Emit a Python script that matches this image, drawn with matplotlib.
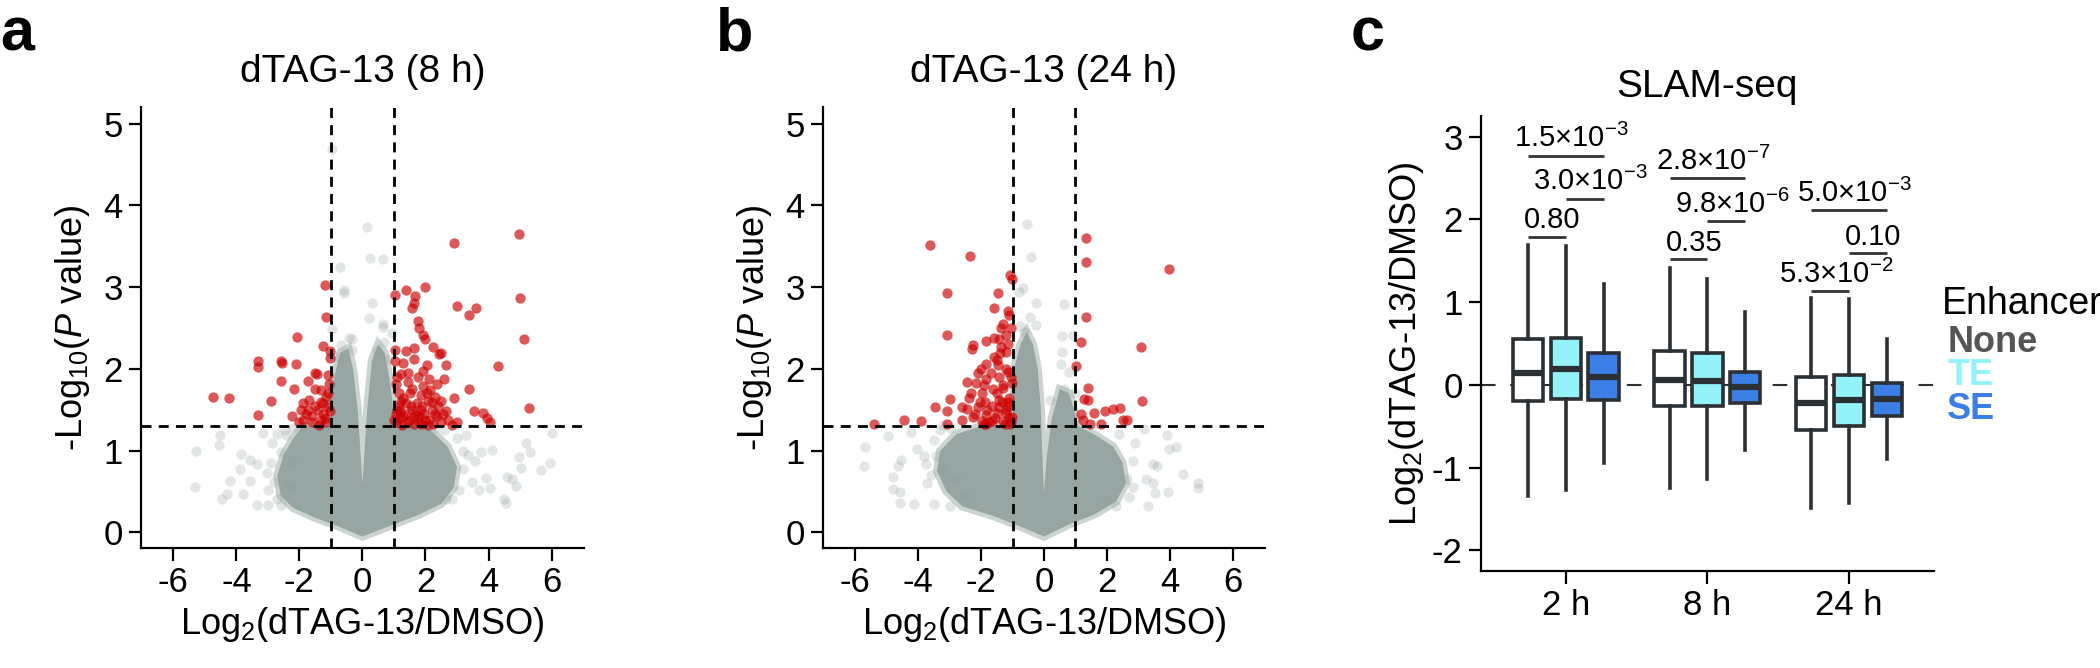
import numpy as np
import matplotlib.pyplot as plt

plt.rcParams['font.family'] = ['Liberation Sans', 'DejaVu Sans']
plt.rcParams['mathtext.fontset'] = 'custom'
plt.rcParams['mathtext.rm'] = 'Liberation Sans'
plt.rcParams['mathtext.it'] = 'Liberation Sans:italic'
plt.rcParams['axes.unicode_minus'] = False

# ------------------------------------------------------------
# Panel a : dTAG-13 (8 h) volcano
# ------------------------------------------------------------
red_a_x = [4.97, 2.92, 5.0, 2.99, 3.6, 3.39, 5.11, 2.0, 1.37, 1.02, 1.68, 1.62, 1.58,
           1.76, 1.79, 1.91, 1.98, 4.31, 5.29, 3.37, 3.53, 3.84, 3.95, 4.05, 2.89, 2.6,
           2.64, 2.43, 2.25, 2.5, 2.05, 2.1, 1.65, 1.37, 1.02, 1.02, 1.3, 1.65, 1.23, 1.93,
           1.06, 1.16, 1.23, 1.09, 1.3, 1.44, 1.58, 1.72, 1.86, 2.08, 2.22, 2.36, 2.5, 2.71,
           2.85, 2.0, 1.79, 1.58, 1.44, 1.93, 2.15, 2.36, 2.29, 2.5, 1.0, 1.2, 1.65, 2.08,
           2.64, 1.86, 1.37, 2.99,
           1.1, 1.2, 1.35, 1.5, 1.65, 1.8, 1.95, 2.1, 2.25, 2.4, 1.15, 1.3, 1.5, 1.7, 1.9,
           2.05, 1.1, 1.45, 1.75, 2.2, 2.55, 1.05, 1.25, 1.55, 1.85, 2.3,
           -1.2, -1.17, -2.09, -1.24, -1.03, -1.03, -3.32, -3.32, -2.58, -2.56, -2.12,
           -2.58, -1.74, -1.52, -1.1, -1.45, -2.16, -4.73, -4.25, -2.89, -3.32, -2.23,
           -1.88, -1.52, -1.31, -1.17, -1.52, -1.24, -1.74, -1.1, -1.88, -1.6, -1.31,
           -1.03, -2.02, -1.38, -1.06,
           -1.15, -1.25, -1.4, -1.6, -1.8, -1.3, -1.1, -1.7, -1.95, -1.2]
red_a_y = [3.65, 3.54, 2.87, 2.77, 2.75, 2.66, 2.36, 3.0, 2.97, 2.9, 2.89, 2.8, 2.74,
           2.58, 2.5, 2.41, 2.36, 2.03, 1.52, 1.76, 1.48, 1.46, 1.4, 1.35, 1.64, 1.88,
           2.05, 2.18, 2.27, 2.19, 2.05, 1.88, 2.25, 2.22, 2.23, 2.1, 2.07, 2.12, 1.94, 1.97,
           1.81, 1.71, 1.61, 1.5, 1.42, 1.35, 1.5, 1.58, 1.68, 1.61, 1.5, 1.42, 1.35, 1.37,
           1.32, 1.37, 1.35, 1.76, 1.84, 1.79, 1.74, 1.81, 1.66, 1.61, 1.37, 1.48, 1.42, 1.32,
           1.48, 1.5, 1.58, 1.35,
           1.35, 1.4, 1.45, 1.38, 1.33, 1.42, 1.45, 1.38, 1.33, 1.55, 1.55, 1.65, 1.7, 1.45,
           1.55, 1.7, 1.9, 1.95, 1.9, 1.6, 1.45, 1.45, 1.32, 1.55, 1.33, 1.45,
           3.03, 2.63, 2.39, 2.28, 2.22, 2.13, 2.1, 2.02, 2.1, 2.07, 2.06,
           1.85, 1.85, 1.95, 1.92, 1.94, 1.75, 1.66, 1.65, 1.61, 1.44, 1.42,
           1.58, 1.76, 1.74, 1.66, 1.55, 1.58, 1.5, 1.53, 1.37, 1.42, 1.37,
           1.48, 1.35, 1.32, 1.81,
           1.35, 1.45, 1.5, 1.35, 1.45, 1.6, 1.7, 1.62, 1.5, 1.4]

gray_a_x = [-0.96, 0.13, 0.24, 0.64, -0.72, -0.58, -0.58, 0.31, -0.96, 0.21, 0.64, 0.66,
            -0.42, -0.32, -0.68, -0.82, -0.32, 0.45, 0.69, 0.95, 0.8,
            -5.29, -5.31, -4.52, -4.56, -4.45, -4.31, -3.85, -3.88, -3.57, -3.36, -3.36,
            -3.57, -3.78, -4.21, -3.04, -3.01, -2.8, -3.15, -2.87, -2.58, -2.44, -2.23,
            -2.3, -2.58, -3.0, -2.72, -2.9, -2.7, -2.45, -2.2, -1.9,
            6.03, 5.96, 5.65, 5.32, 5.18, 4.97, 5.04, 4.59, 4.55, 4.48, 4.05, 4.12, 3.77,
            3.56, 3.49, 3.91, 3.28, 3.2, 3.06, 2.85, 2.64, 3.7, 4.76, 4.87, 3.2, 3.0, 2.6,
            2.3, 3.35]
gray_a_y = [4.69, 3.73, 3.36, 3.34, 3.24, 2.96, 2.93, 2.8, 2.49, 2.62, 2.51, 2.55,
            2.38, 2.36, 2.29, 2.15, 2.23, 2.23, 2.33, 2.44, 2.12,
            1.0, 0.55, 1.19, 1.07, 0.41, 0.47, 0.96, 0.78, 0.89, 0.84, 0.34,
            0.63, 0.47, 0.63, 0.73, 0.52, 0.62, 1.22, 1.09, 0.98, 1.19, 0.88,
            0.57, 0.34, 0.34, 0.41, 0.85, 1.2, 1.25, 1.28, 1.3,
            1.22, 0.85, 0.77, 0.98, 1.1, 0.92, 0.79, 0.68, 0.36, 0.41, 0.54, 1.01, 0.98,
            0.88, 0.62, 0.67, 1.19, 0.78, 0.52, 0.41, 0.41, 0.52, 0.65, 0.57, 1.0, 1.15, 1.25,
            1.28, 0.95]

core_a_x = [0, 1.0, 1.8, 2.5, 2.9, 3.0, 2.7, 2.3, 2.0, 1.0, 0.95, 0.85, 0.7, 0.5, 0.3,
            0.15, 0.05, 0.0, -0.05, -0.15, -0.3, -0.45, -0.7, -0.9, -1.0, -1.0, -1.9,
            -2.2, -2.5, -2.7, -2.6, -2.2, -1.5, -0.8]
core_a_y = [-0.05, 0.1, 0.22, 0.35, 0.55, 0.8, 1.05, 1.2, 1.3, 1.3, 1.6, 1.9, 2.2, 2.3, 2.1,
            1.5, 0.9, 0.6, 0.9, 1.5, 2.0, 2.25, 2.2, 1.9, 1.6, 1.3, 1.3,
            1.15, 0.95, 0.7, 0.45, 0.3, 0.18, 0.08]

# ------------------------------------------------------------
# Panel b : dTAG-13 (24 h) volcano
# ------------------------------------------------------------
red_b_x = [-3.62, -2.35, -1.08, -1.01, -3.07, -1.46, -1.59, -1.15, -1.12, -3.07, -1.38,
           -1.22, -1.42, -1.59, -1.83, -2.27, -2.3, -1.38, -1.22, -1.49, -1.83, -2.11,
           -2.16, -2.45, -1.83, -1.42, -1.15, -1.01, -1.29, -1.63, -1.97, -2.32, -2.98,
           -1.88, -1.42, -1.15, -2.11, -2.45, -2.62, -3.07, -3.46, -2.25, -1.83, -1.49,
           -1.22, -1.01, -1.66, -1.29, -2.6, -3.1, -3.9, -4.44, -5.41, -1.97, -1.08,
           -1.83, -1.42,
           -1.1, -1.2, -1.35, -1.5, -1.65, -1.8, -1.3, -1.05, -1.2, -1.45, -1.7, -1.9,
           -2.05, -1.1, -1.55, -1.75, -2.2, -1.25, -1.4, -1.15, -1.6, -2.0, -1.05, -1.3,
           -1.15, -1.05, -2.4, -1.9,
           1.33, 1.35, 1.33, 1.19, 1.02, 1.39, 1.39, 1.26, 1.19, 1.23, 1.6, 1.95, 2.18,
           2.43, 2.5, 2.64, 1.81, 3.11, 3.07, 3.98, 1.47]
red_b_y = [3.52, 3.38, 3.15, 3.1, 2.93, 2.93, 2.74, 2.71, 2.66, 2.42, 2.5,
           2.42, 2.37, 2.38, 2.34, 2.29, 2.24, 2.27, 2.21, 2.11, 2.06, 1.95,
           1.83, 1.84, 1.88, 1.9, 1.96, 1.83, 1.77, 1.75, 1.7, 1.7, 1.63,
           1.59, 1.62, 1.59, 1.54, 1.51, 1.54, 1.49, 1.53, 1.41, 1.44, 1.46,
           1.46, 1.41, 1.36, 1.36, 1.37, 1.33, 1.36, 1.37, 1.33, 1.36, 1.33,
           1.33, 1.54,
           1.4, 1.5, 1.6, 1.7, 1.55, 1.5, 1.8, 1.9, 2.0, 2.05, 1.95, 1.8,
           1.6, 1.65, 1.4, 1.35, 1.45, 1.33, 2.2, 2.3, 2.15, 2.0, 2.5, 2.55,
           1.55, 1.35, 1.65, 1.33,
           3.6, 3.31, 2.64, 2.33, 2.03, 1.77, 1.62, 1.63, 1.45, 1.38, 1.46, 1.48, 1.51,
           1.52, 1.37, 1.38, 1.33, 1.61, 2.27, 3.22, 1.33]

gray_b_x = [-0.53, -0.42, -0.67, -0.8, -0.25, 0.64, 0.58, -0.46, -0.25, -0.77, -0.63, 0.91,
            0.58, 0.53, 0.78, 0.2, 0.64, 0.98,
            -5.68, -5.73, -4.97, -4.56, -4.65, -4.79, -4.79, -4.58, -4.58, -4.14, -3.76,
            -3.73, -3.49, -4.24, -4.03, -3.83, -3.49, -3.42, -3.28, -3.0, -2.8, -2.52, -3.21,
            -3.6, -3.3, -3.0,
            3.18, 3.91, 3.97, 4.19, 3.46, 3.6, 3.25, 3.46, 3.32, 3.53, 3.94, 4.42, 4.9, 4.9,
            2.84, 2.7, 2.29, 2.84, 2.63, 2.01, 2.9, 2.4]
gray_b_y = [3.77, 3.37, 2.99, 2.94, 2.81, 2.79, 2.4, 2.63, 2.54, 2.53, 2.45, 2.42,
            2.21, 2.06, 1.96, 1.62, 1.75, 1.7,
            1.05, 0.81, 1.18, 0.89, 0.81, 0.68, 0.53, 0.5, 0.36, 0.35, 0.84,
            0.61, 0.35, 1.23, 1.02, 0.94, 1.13, 0.94, 0.76, 0.32, 0.66, 0.45, 1.31,
            0.7, 1.25, 1.28,
            1.26, 1.19, 1.02, 1.05, 0.84, 0.81, 0.66, 0.61, 0.32, 0.48, 0.5, 0.71, 0.61, 0.54,
            0.55, 0.43, 0.32, 0.87, 0.66, 0.4, 1.1, 1.2]

core_b_x = [0, 0.8, 1.6, 2.3, 2.6, 2.5, 2.2, 1.6, 1.1, 0.95, 0.8, 0.5, 0.25, 0.08, 0.0,
            -0.05, -0.1, -0.2, -0.35, -0.55, -0.75, -0.95, -1.0, -2.0, -2.8, -3.3, -3.4,
            -3.1, -2.6, -1.6, -0.8]
core_b_y = [-0.05, 0.1, 0.22, 0.38, 0.6, 0.85, 1.05, 1.2, 1.3, 1.5, 1.7, 1.75, 1.4, 0.9, 0.5,
            0.9, 1.5, 2.0, 2.3, 2.45, 2.3, 2.0, 1.3, 1.3, 1.2, 1.0, 0.75,
            0.5, 0.32, 0.2, 0.08]

# ------------------------------------------------------------
# Panel c : SLAM-seq box plots
# ------------------------------------------------------------
timepoints = ['2 h', '8 h', '24 h']
enhancers = ['None', 'TE', 'SE']
# rows = timepoints, columns = None / TE / SE
whis_hi = [[1.69, 1.68, 1.22], [1.41, 1.28, 0.88], [1.05, 1.04, 0.56]]
box_q3 = [[0.56, 0.57, 0.39], [0.41, 0.38, 0.16], [0.10, 0.12, 0.02]]
box_med = [[0.15, 0.19, 0.10], [0.06, 0.05, -0.03], [-0.22, -0.18, -0.17]]
box_q1 = [[-0.20, -0.17, -0.18], [-0.26, -0.25, -0.22], [-0.55, -0.50, -0.37]]
whis_lo = [[-1.34, -1.27, -0.94], [-1.25, -1.14, -0.79], [-1.49, -1.43, -0.90]]

# significance brackets: (pair indices, height, label) per timepoint
brk_pairs = [(0, 2), (1, 2), (0, 1)]
brk_y = [[2.77, 2.25, 1.79], [2.50, 1.98, 1.52], [2.11, 1.59, 1.13]]
brk_txt = [[r'1.5×10$^{-3}$', r'3.0×10$^{-3}$', '0.80'],
           [r'2.8×10$^{-7}$', r'9.8×10$^{-6}$', '0.35'],
           [r'5.0×10$^{-3}$', '0.10', r'5.3×10$^{-2}$']]

RED = '#cc0000'
GRAY = '#8e9d9a'
CORE = '#98a6a3'
HALO = '#ccd4d2'
BOX_COLORS = ['#ffffff', '#93f3f8', '#3b7fe6']
TXT_COLORS = ['#555555', '#93f3f8', '#3b7fe6']
EDGE = '#2b3034'

fig = plt.figure(figsize=(21, 6.68), dpi=100)


def style_axes(ax):
    for s in ['top', 'right']:
        ax.spines[s].set_visible(False)
    for s in ['left', 'bottom']:
        ax.spines[s].set_linewidth(1.6)
    ax.tick_params(width=1.6, length=9, labelsize=25, pad=4)


def volcano(ax, gx, gy, rx, ry, cx, cy, title):
    ax.fill(cx, cy, fc=HALO, ec=HALO, lw=6, zorder=1)
    ax.fill(cx, cy, color=CORE, lw=0, zorder=1.5)
    ax.scatter(gx, gy, s=55, color=GRAY, alpha=0.25, lw=0, zorder=2)
    ax.scatter(rx, ry, s=55, color=RED, alpha=0.65, lw=0, zorder=3)
    dash = (0, (3.6, 2.6))
    ax.axhline(-np.log10(0.05), color='black', lw=2, ls=dash, zorder=5)
    for xv in [-1, 1]:
        ax.axvline(xv, color='black', lw=2, ls=dash, zorder=5)
    ax.set_xlim(-7.03, 7.03)
    ax.set_ylim(-0.19, 5.2)
    ax.set_xticks(range(-6, 7, 2))
    ax.set_yticks(range(0, 6))
    ax.set_xlabel(r'Log$_2$(dTAG-13/DMSO)', fontsize=26, labelpad=4)
    ax.set_ylabel(r'-Log$_{10}$($P$ value)', fontsize=26, labelpad=8)
    ax.set_title(title, fontsize=28, pad=18)
    style_axes(ax)


ax_a = fig.add_axes([0.0671, 0.1796, 0.211, 0.660])
volcano(ax_a, gray_a_x, gray_a_y, red_a_x, red_a_y, core_a_x, core_a_y, 'dTAG-13 (8 h)')

ax_b = fig.add_axes([0.3919, 0.1796, 0.2105, 0.660])
volcano(ax_b, gray_b_x, gray_b_y, red_b_x, red_b_y, core_b_x, core_b_y, 'dTAG-13 (24 h)')

# ---- panel c
ax_c = fig.add_axes([0.7052, 0.1452, 0.2157, 0.681])
offset = 0.267
width = 0.215
ax_c.axhline(0, color=EDGE, lw=1.5, ls=(0, (7, 7)), zorder=0)
for i, tp in enumerate(timepoints):
    for j, enh in enumerate(enhancers):
        st = dict(med=box_med[i][j], q1=box_q1[i][j], q3=box_q3[i][j],
                  whislo=whis_lo[i][j], whishi=whis_hi[i][j], fliers=[])
        ax_c.bxp([st], positions=[i + 1 + (j - 1) * offset], widths=width,
                 patch_artist=True, showcaps=False,
                 boxprops=dict(facecolor=BOX_COLORS[j], edgecolor=EDGE, lw=2.6),
                 medianprops=dict(color=EDGE, lw=4.5),
                 whiskerprops=dict(color=EDGE, lw=2.6), manage_ticks=False)
    for k, (p0, p1) in enumerate(brk_pairs):
        x0 = i + 1 + (p0 - 1) * offset
        x1 = i + 1 + (p1 - 1) * offset
        yb = brk_y[i][k]
        ax_c.plot([x0, x1], [yb, yb], color='#333333', lw=2, solid_capstyle='butt')
        ax_c.text((x0 + x1) / 2 + 0.04, yb + 0.03, brk_txt[i][k], fontsize=21,
                  ha='center', va='bottom')

ax_c.set_xlim(0.4, 3.6)
ax_c.set_ylim(-2.25, 3.25)
ax_c.set_xticks([1, 2, 3])
ax_c.set_xticklabels(timepoints)
ax_c.set_yticks(range(-2, 4))
ax_c.set_ylabel(r'Log$_2$(dTAG-13/DMSO)', fontsize=26, labelpad=4)
ax_c.set_title('SLAM-seq', fontsize=28, pad=14)
style_axes(ax_c)

# legend text to the right of the box plot
ax_c.text(3.655, 0.98, 'Enhancer', fontsize=27, ha='left', va='center', clip_on=False)
leg_y = [0.51, 0.11, -0.30]
for j, enh in enumerate(enhancers):
    ax_c.text(3.695, leg_y[j], enh, fontsize=26, fontweight='bold', color=TXT_COLORS[j],
              ha='left', va='center', clip_on=False)

# panel letters
for xl, letter in [(0.0, 'a'), (0.341, 'b'), (0.643, 'c')]:
    fig.text(xl, 0.925, letter, fontsize=44, fontweight='bold', va='baseline')

fig.savefig('out.png', dpi=100)
